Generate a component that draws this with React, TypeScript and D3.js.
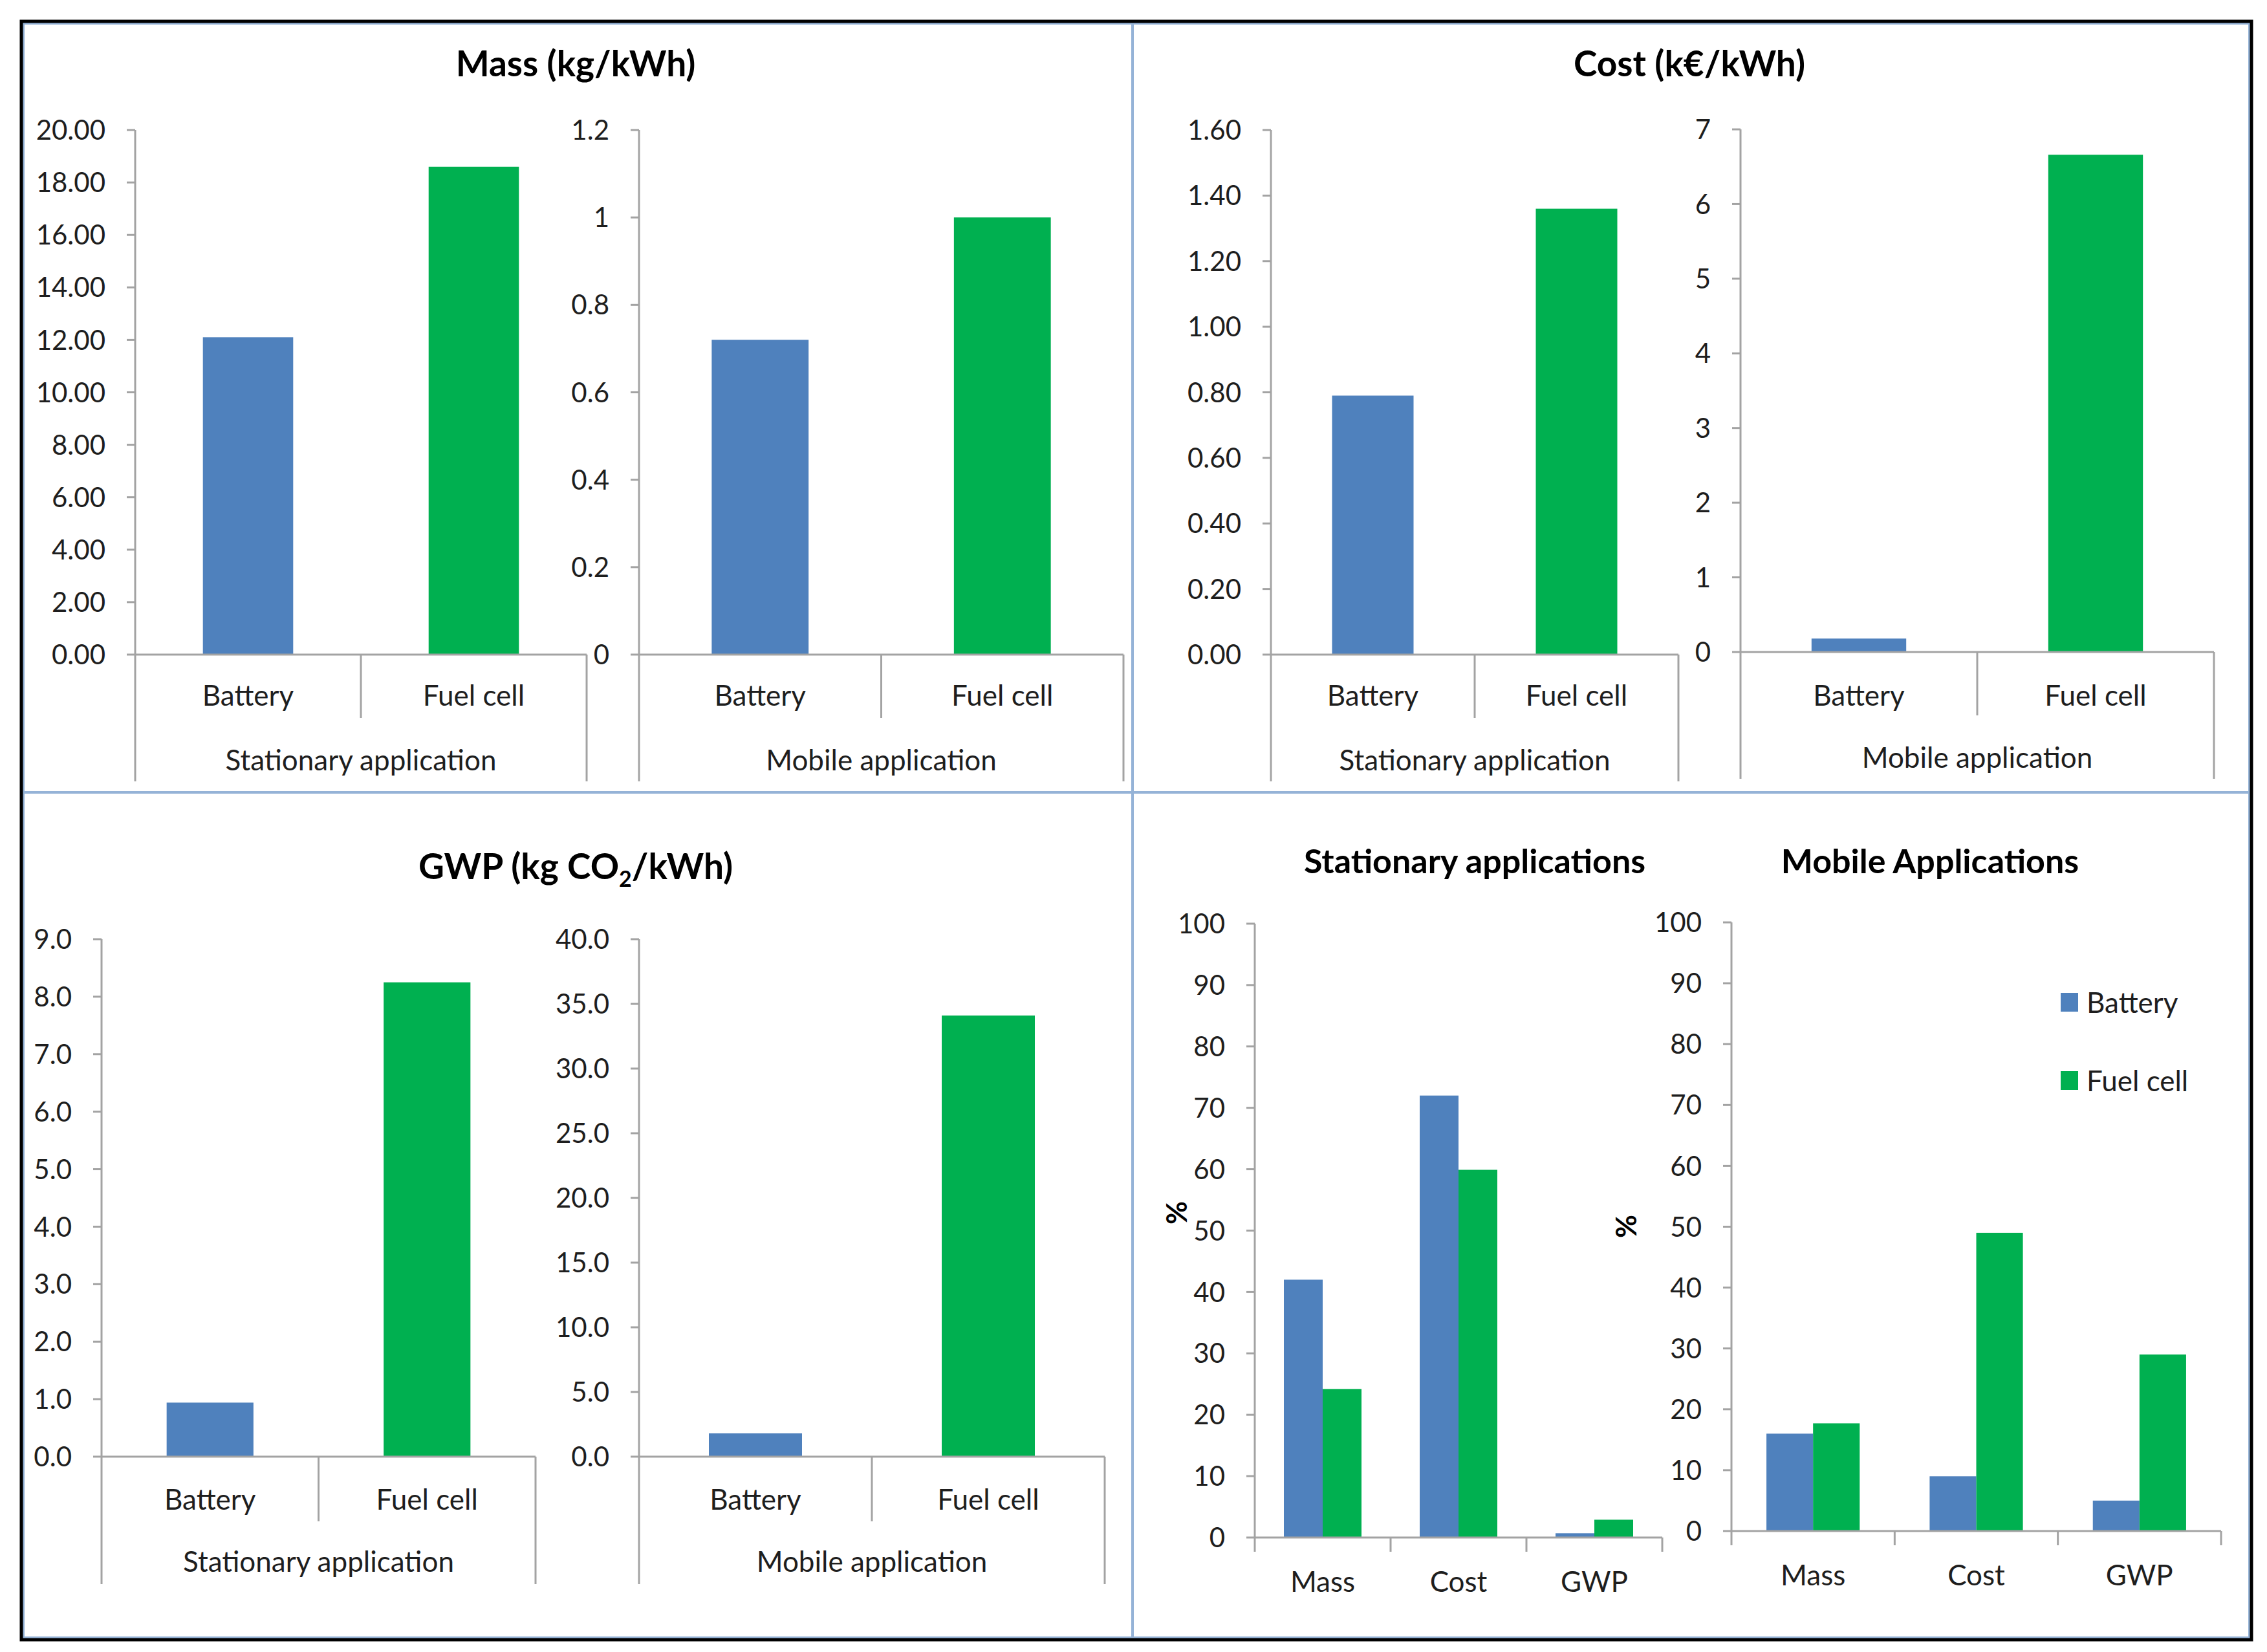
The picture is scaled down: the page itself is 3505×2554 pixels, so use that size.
import * as d3 from "d3";

const W = 3505;
const H = 2554;
const FONT = "Lato, 'Open Sans', sans-serif";
const BLUE = "#4f81bd";
const GREEN = "#00b050";
const AXIS = "#a3a3a3";
const TEXT = "#1e1e1e";
const FRAME = "#95b3d7";

// top three panels: one bar per technology
const technologies = ["Battery", "Fuel cell"];
const massStationary = [12.1, 18.6];
const massMobile = [0.72, 1.0];
const costStationary = [0.79, 1.36];
const costMobile = [0.18, 6.66];
const gwpStationary = [0.94, 8.25];
const gwpMobile = [1.8, 34.1];

const massStationaryTicks = [0, 2, 4, 6, 8, 10, 12, 14, 16, 18, 20];
const massMobileTicks = [0, 0.2, 0.4, 0.6, 0.8, 1, 1.2];
const costStationaryTicks = [0, 0.2, 0.4, 0.6, 0.8, 1, 1.2, 1.4, 1.6];
const costMobileTicks = [0, 1, 2, 3, 4, 5, 6, 7];
const gwpStationaryTicks = [0, 1, 2, 3, 4, 5, 6, 7, 8, 9];
const gwpMobileTicks = [0, 5, 10, 15, 20, 25, 30, 35, 40];

// bottom-right panel: relative shares in %
const criteria = ["Mass", "Cost", "GWP"];
const stationaryBatteryPct = [42, 72, 0.7];
const stationaryFuelCellPct = [24.2, 59.9, 2.9];
const mobileBatteryPct = [16, 9, 5];
const mobileFuelCellPct = [17.7, 49, 29];
const pctTicks = [0, 10, 20, 30, 40, 50, 60, 70, 80, 90, 100];

const colors = [BLUE, GREEN];

type AppChartProps = {
  axisX: number;
  right: number;
  base: number;
  top: number;
  ticks: number[];
  fmt: (v: number) => string;
  values: number[];
  group: string;
  catY: number;
  groupY: number;
  sepBottom: number;
  outerBottom: number;
};

const AppChart = ({
  axisX, right, base, top, ticks, fmt, values, group, catY, groupY, sepBottom, outerBottom
}: AppChartProps) => {
  const x = d3.scaleBand().domain(technologies).range([axisX, right]);
  const y = d3.scaleLinear().domain([0, ticks[ticks.length - 1]]).range([base, top]);
  const bw = x.bandwidth();

  return (
    <g>
      {technologies.map((t, i) => (
        <rect
          key={t}
          x={(x(t) || 0) + bw * 0.3}
          y={y(values[i])}
          width={bw * 0.4}
          height={y(0) - y(values[i])}
          fill={colors[i]}
        />
      ))}
      <line x1={axisX} x2={axisX} y1={top} y2={outerBottom} stroke={AXIS} strokeWidth={3} />
      <line x1={axisX} x2={right} y1={base} y2={base} stroke={AXIS} strokeWidth={3} />
      <line x1={right} x2={right} y1={base} y2={outerBottom} stroke={AXIS} strokeWidth={3} />
      <line
        x1={x(technologies[1])}
        x2={x(technologies[1])}
        y1={base}
        y2={sepBottom}
        stroke={AXIS}
        strokeWidth={3}
      />
      {ticks.map((t) => (
        <g key={t}>
          <line x1={axisX - 13} x2={axisX} y1={y(t)} y2={y(t)} stroke={AXIS} strokeWidth={3} />
          <text
            x={axisX - 46}
            y={y(t)}
            dy="0.36em"
            textAnchor="end"
            fontSize={42}
            fill={TEXT}
          >
            {fmt(t)}
          </text>
        </g>
      ))}
      {technologies.map((t) => (
        <text
          key={t}
          x={(x(t) || 0) + bw / 2}
          y={catY}
          textAnchor="middle"
          fontSize={44}
          fill={TEXT}
        >
          {t}
        </text>
      ))}
      <text x={(axisX + right) / 2} y={groupY} textAnchor="middle" fontSize={44} fill={TEXT}>
        {group}
      </text>
    </g>
  );
};

type PctChartProps = {
  axisX: number;
  right: number;
  base: number;
  top: number;
  battery: number[];
  fuelCell: number[];
  catY: number;
  pctX: number;
  pctY: number;
};

const PctChart = ({ axisX, right, base, top, battery, fuelCell, catY, pctX, pctY }: PctChartProps) => {
  const x = d3.scaleBand().domain(criteria).range([axisX, right]);
  const bw = x.bandwidth();
  const inner = d3
    .scaleBand()
    .domain(technologies)
    .range([bw * 0.75 / 3.5, bw * 2.75 / 3.5]);
  const y = d3.scaleLinear().domain([0, 100]).range([base, top]);
  const series = [battery, fuelCell];

  return (
    <g>
      {criteria.map((c, ci) =>
        technologies.map((t, ti) => (
          <rect
            key={c + t}
            x={(x(c) || 0) + (inner(t) || 0)}
            y={y(series[ti][ci])}
            width={inner.bandwidth()}
            height={y(0) - y(series[ti][ci])}
            fill={colors[ti]}
          />
        ))
      )}
      <line x1={axisX} x2={axisX} y1={top} y2={base} stroke={AXIS} strokeWidth={3} />
      <line x1={axisX} x2={right} y1={base} y2={base} stroke={AXIS} strokeWidth={3} />
      {[...criteria.map((c) => x(c) || 0), right].map((bx, i) => (
        <line key={i} x1={bx} x2={bx} y1={base} y2={base + 22} stroke={AXIS} strokeWidth={3} />
      ))}
      {pctTicks.map((t) => (
        <g key={t}>
          <line x1={axisX - 13} x2={axisX} y1={y(t)} y2={y(t)} stroke={AXIS} strokeWidth={3} />
          <text x={axisX - 46} y={y(t)} dy="0.36em" textAnchor="end" fontSize={42} fill={TEXT}>
            {t}
          </text>
        </g>
      ))}
      {criteria.map((c) => (
        <text key={c} x={(x(c) || 0) + bw / 2} y={catY} textAnchor="middle" fontSize={44} fill={TEXT}>
          {c}
        </text>
      ))}
      <text
        transform={`translate(${pctX},${pctY}) rotate(-90)`}
        textAnchor="middle"
        dy="0.36em"
        fontSize={44}
        fontWeight="bold"
        fill="#000"
      >
        %
      </text>
    </g>
  );
};

const f2 = (v: number) => v.toFixed(2);
const f1 = (v: number) => v.toFixed(1);
const fShort = (v: number) => String(+v.toFixed(1));

export default function App() {
  return (
    <>
      <style>{"body{margin:0}"}</style>
      <svg width={W} height={H} style={{ display: "block", fontFamily: FONT }}>
        <rect x={0} y={0} width={W} height={H} fill="#fff" />

        {/* panel frames */}
        <rect x={36} y={36} width={1715} height={1189} fill="none" stroke={FRAME} strokeWidth={4} />
        <rect x={1751} y={36} width={1727} height={1189} fill="none" stroke={FRAME} strokeWidth={4} />
        <rect x={36} y={1225} width={1715} height={1307} fill="none" stroke={FRAME} strokeWidth={4} />
        <rect x={1751} y={1225} width={1727} height={1307} fill="none" stroke={FRAME} strokeWidth={4} />
        <rect x={33} y={33} width={3448} height={2502} fill="none" stroke="#000" strokeWidth={5} />

        {/* Mass */}
        <text x={890} y={118} textAnchor="middle" fontSize={55} fontWeight="bold" fill="#000">
          Mass (kg/kWh)
        </text>
        <AppChart
          axisX={209} right={907} base={1012} top={201}
          ticks={massStationaryTicks} fmt={f2} values={massStationary}
          group="Stationary application" catY={1091} groupY={1191} sepBottom={1110} outerBottom={1208}
        />
        <AppChart
          axisX={988} right={1737} base={1012} top={201}
          ticks={massMobileTicks} fmt={fShort} values={massMobile}
          group="Mobile application" catY={1091} groupY={1191} sepBottom={1110} outerBottom={1208}
        />

        {/* Cost */}
        <text x={2612} y={118} textAnchor="middle" fontSize={55} fontWeight="bold" fill="#000">
          Cost (k€/kWh)
        </text>
        <AppChart
          axisX={1965} right={2595} base={1012} top={201}
          ticks={costStationaryTicks} fmt={f2} values={costStationary}
          group="Stationary application" catY={1091} groupY={1191} sepBottom={1110} outerBottom={1208}
        />
        <AppChart
          axisX={2691} right={3423} base={1008} top={200}
          ticks={costMobileTicks} fmt={fShort} values={costMobile}
          group="Mobile application" catY={1091} groupY={1187} sepBottom={1106} outerBottom={1204}
        />

        {/* GWP */}
        <text x={890} y={1359} textAnchor="middle" fontSize={55} fontWeight="bold" fill="#000">
          GWP (kg CO<tspan fontSize={34} dy={12}>2</tspan><tspan dy={-12}>/kWh)</tspan>
        </text>
        <AppChart
          axisX={157} right={828} base={2252} top={1452}
          ticks={gwpStationaryTicks} fmt={f1} values={gwpStationary}
          group="Stationary application" catY={2334} groupY={2430} sepBottom={2352} outerBottom={2449}
        />
        <AppChart
          axisX={988} right={1708} base={2252} top={1452}
          ticks={gwpMobileTicks} fmt={f1} values={gwpMobile}
          group="Mobile application" catY={2334} groupY={2430} sepBottom={2352} outerBottom={2449}
        />

        {/* shares */}
        <text x={2280} y={1350} textAnchor="middle" fontSize={52} fontWeight="bold" fill="#000">
          Stationary applications
        </text>
        <text x={2984} y={1350} textAnchor="middle" fontSize={52} fontWeight="bold" fill="#000">
          Mobile Applications
        </text>
        <PctChart
          axisX={1940} right={2570} base={2377} top={1428}
          battery={stationaryBatteryPct} fuelCell={stationaryFuelCellPct}
          catY={2461} pctX={1819} pctY={1875}
        />
        <PctChart
          axisX={2677} right={3434} base={2367} top={1426}
          battery={mobileBatteryPct} fuelCell={mobileFuelCellPct}
          catY={2451} pctX={2514} pctY={1896}
        />

        {/* legend */}
        {technologies.map((t, i) => (
          <g key={t} transform={`translate(3186,${1535 + i * 121})`}>
            <rect x={0} y={0} width={27} height={29} fill={colors[i]} />
            <text x={40} y={15} dy="0.36em" fontSize={44} fill={TEXT}>
              {t}
            </text>
          </g>
        ))}
      </svg>
    </>
  );
}
